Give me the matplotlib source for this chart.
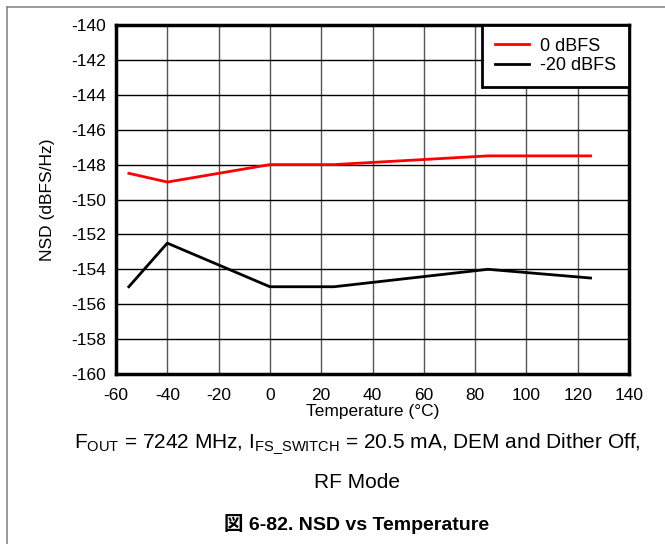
import matplotlib.pyplot as plt
from matplotlib.lines import Line2D

plt.rcParams['font.family'] = ['Liberation Sans', 'Noto Sans CJK JP', 'DejaVu Sans']
plt.rcParams['mathtext.fontset'] = 'custom'
plt.rcParams['mathtext.rm'] = 'Liberation Sans'
plt.rcParams['axes.unicode_minus'] = False

temp = [-55, -40, 0, 25, 85, 125]
nsd_0dbfs = [-148.5, -149, -148, -148, -147.5, -147.5]
nsd_m20dbfs = [-155, -152.5, -155, -155, -154, -154.5]
series_names = ['0 dBFS', '-20 dBFS']
x_ticks = list(range(-60, 141, 20))
y_ticks = list(range(-160, -139, 2))

fig = plt.figure(figsize=(6.65, 5.44), dpi=100)
ax = fig.add_axes([116 / 665, 1 - 374 / 544, (629 - 116) / 665, (374 - 25) / 544])

ax.plot(temp, nsd_0dbfs, color='#ff0000', lw=2, label=series_names[0])
ax.plot(temp, nsd_m20dbfs, color='black', lw=2, label=series_names[1])

ax.set_xlim(-60, 140)
ax.set_ylim(-160, -140)
ax.set_xticks(x_ticks)
ax.set_yticks(y_ticks)
ax.tick_params(length=0, labelsize=12.5)
ax.tick_params(axis='x', pad=10)
ax.tick_params(axis='y', pad=7)
ax.xaxis.grid(True, color='#555555', lw=1)
ax.yaxis.grid(True, color='black', lw=1)
ax.set_axisbelow(True)
for s in ax.spines.values():
    s.set_linewidth(2.5)

ax.set_xlabel('Temperature (°C)', fontsize=12.5, labelpad=1)
ax.set_ylabel('NSD (dBFS/Hz)', fontsize=12.5, labelpad=12)

leg = ax.legend(loc='upper right', borderaxespad=0, fontsize=13, fancybox=False,
                framealpha=1, edgecolor='black', handlelength=1.9, handletextpad=0.6,
                borderpad=0.7, labelspacing=0.15)
leg.get_frame().set_linewidth(2)

# outer frame lines (top and left only)
fig.add_artist(Line2D([7 / 665, 1], [1 - 7 / 544, 1 - 7 / 544], color='#888888', lw=1.2))
fig.add_artist(Line2D([7 / 665, 7 / 665], [0, 1 - 7 / 544], color='#888888', lw=1.2))

cx = 357 / 665
fig.text(cx, 1 - 444 / 544, r'F$_{\mathrm{OUT}}$ = 7242 MHz, I$_{\mathrm{FS\_SWITCH}}$ = 20.5 mA, DEM and Dither Off,',
         ha='center', va='center', fontsize=15)
fig.text(cx, 1 - 483 / 544, 'RF Mode', ha='center', va='center', fontsize=15)
fig.text(cx, 1 - 524 / 544, '図 6-82. NSD vs Temperature', ha='center', va='center',
         fontsize=14, fontweight='bold')

fig.savefig('out.png', dpi=100)
